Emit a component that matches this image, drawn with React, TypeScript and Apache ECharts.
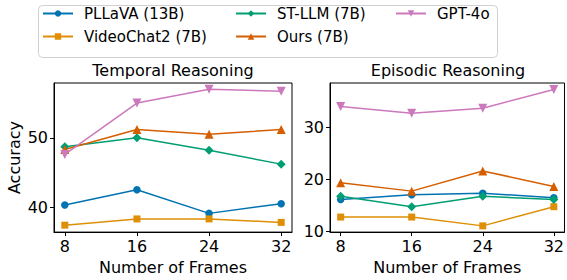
import React, { useEffect, useRef } from "react";
import * as echarts from "echarts";

const frames = [8, 16, 24, 32];
const seriesNames = ["PLLaVA (13B)", "VideoChat2 (7B)", "ST-LLM (7B)", "Ours (7B)", "GPT-4o"];
const pllavaTemporal = [40.3, 42.5, 39.1, 40.5];
const videochatTemporal = [37.4, 38.3, 38.3, 37.8];
const stllmTemporal = [48.7, 50.0, 48.2, 46.2];
const oursTemporal = [48.3, 51.2, 50.5, 51.2];
const gptTemporal = [47.6, 55.0, 57.0, 56.7];
const pllavaEpisodic = [16.1, 17.0, 17.3, 16.4];
const videochatEpisodic = [12.7, 12.7, 11.0, 14.7];
const stllmEpisodic = [16.7, 14.7, 16.7, 16.1];
const oursEpisodic = [19.3, 17.7, 21.6, 18.6];
const gptEpisodic = [34.0, 32.7, 33.7, 37.3];
const temporalTicks = [40, 50];
const episodicTicks = [10, 20, 30];

const colors = ["#0173b2", "#de8f05", "#029e73", "#d55e00", "#cc78bc"];
const symbols = [
  "circle",
  "rect",
  "diamond",
  "triangle",
  "path://M0,0 L10,0 L5,9 Z",
];
const symbolSizes = [7.5, 7, 9, 9, 9];
const FONT = "DejaVu Sans";
const FS = 16;

export default function App() {
  const ref = useRef<HTMLDivElement>(null);
  useEffect(() => {
    document.body.style.margin = "0";
    const chart = echarts.init(ref.current!, null, { renderer: "svg" });
    const temporal = [pllavaTemporal, videochatTemporal, stllmTemporal, oursTemporal, gptTemporal];
    const episodic = [pllavaEpisodic, videochatEpisodic, stllmEpisodic, oursEpisodic, gptEpisodic];
    const mkSeries = (vals: number[][], idx: number) =>
      seriesNames.map((name, i) => ({
        name,
        type: "line",
        xAxisIndex: idx,
        yAxisIndex: idx,
        data: frames.map((f, j) => [f, vals[i][j]]),
        symbol: symbols[i],
        symbolSize: symbolSizes[i],
        showAllSymbol: true,
        lineStyle: { color: colors[i], width: 1.5 },
        itemStyle: { color: colors[i] },
      }));
    const xAxisBase = (gridIndex: number) => ({
      type: "value",
      gridIndex,
      min: 6.8,
      max: 33.2,
      name: "Number of Frames",
      nameLocation: "middle",
      nameGap: 26,
      nameTextStyle: { fontFamily: FONT, fontSize: FS, color: "#000" },
      axisLine: { show: true, lineStyle: { color: "#000", width: 1 } },
      axisTick: { show: true, inside: false, length: 4, customValues: frames, lineStyle: { color: "#000" } },
      axisLabel: { customValues: frames, margin: 6, fontFamily: FONT, fontSize: FS, color: "#000" },
      splitLine: { show: false },
    });
    const yAxisBase = (gridIndex: number, min: number, max: number, ticks: number[]) => ({
      type: "value",
      gridIndex,
      min,
      max,
      axisLine: { show: true, lineStyle: { color: "#000", width: 1 } },
      axisTick: { show: true, inside: false, length: 4, customValues: ticks, lineStyle: { color: "#000" } },
      axisLabel: { customValues: ticks, margin: 6, fontFamily: FONT, fontSize: FS, color: "#000" },
      splitLine: { show: false },
    });
    const legendBase = {
      orient: "vertical",
      top: 6,
      itemWidth: 30,
      itemHeight: 8,
      itemGap: 8,
      padding: 0,
      selectedMode: false,
      textStyle: { fontFamily: FONT, fontSize: 15, color: "#000", padding: [0, 0, 0, 6] },
    };
    chart.setOption({
      animation: false,
      color: colors,
      title: [
        { text: "Temporal Reasoning", left: 173, top: 62, textAlign: "center", padding: 0,
          textStyle: { fontFamily: FONT, fontSize: FS, fontWeight: "normal", color: "#000" } },
        { text: "Episodic Reasoning", left: 448, top: 62, textAlign: "center", padding: 0,
          textStyle: { fontFamily: FONT, fontSize: FS, fontWeight: "normal", color: "#000" } },
      ],
      legend: [
        { ...legendBase, left: 42, data: [seriesNames[0], seriesNames[1]] },
        { ...legendBase, left: 235, data: [seriesNames[2], seriesNames[3]] },
        { ...legendBase, left: 395, data: [seriesNames[4]] },
      ],
      graphic: [
        { type: "rect", left: 36, top: 3, shape: { x: 0, y: 0, width: 459, height: 52, r: 4 },
          style: { fill: "none", stroke: "#d0d0d0", lineWidth: 1 }, z: -1 },
      ],
      grid: [
        { left: 54, top: 83, width: 238, height: 152, show: true, borderColor: "#000", borderWidth: 1, backgroundColor: "transparent" },
        { left: 330, top: 83, width: 236, height: 151, show: true, borderColor: "#000", borderWidth: 1, backgroundColor: "transparent" },
      ],
      xAxis: [xAxisBase(0), xAxisBase(1)],
      yAxis: [
        { ...yAxisBase(0, 36.4, 57.9, temporalTicks), name: "Accuracy", nameLocation: "middle", nameGap: 32,
          nameTextStyle: { fontFamily: FONT, fontSize: FS, color: "#000" } },
        yAxisBase(1, 9.8, 38.55, episodicTicks),
      ],
      series: [...mkSeries(temporal, 0), ...mkSeries(episodic, 1)],
    });
    return () => chart.dispose();
  }, []);
  return <div ref={ref} style={{ width: 567, height: 280 }} />;
}
